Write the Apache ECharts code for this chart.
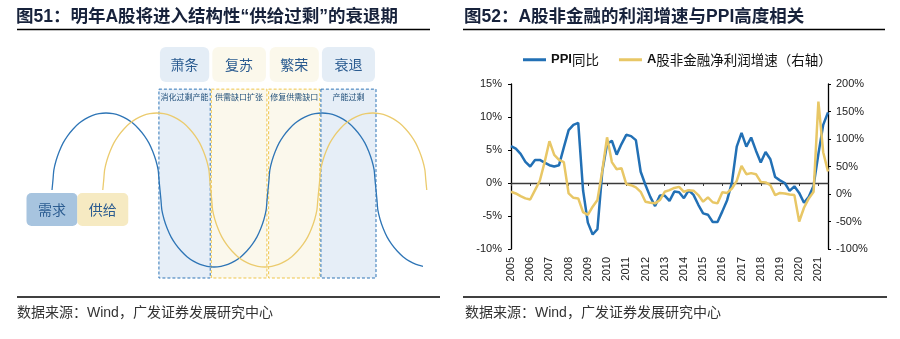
<!DOCTYPE html>
<html>
<head>
<meta charset="utf-8">
<script src="https://cdn.jsdelivr.net/npm/echarts@6/dist/echarts.min.js"></script>
<style>
  html, body { margin: 0; padding: 0; background: #fff; }
  #chart { width: 900px; height: 339px; }
</style>
</head>
<body>
<div id="chart"></div>
<script>
// ===== 图52: quarterly series, 2005Q1 – 2021Q3 =====
const quarters = [
  '2005Q1','2005Q2','2005Q3','2005Q4','2006Q1','2006Q2','2006Q3','2006Q4',
  '2007Q1','2007Q2','2007Q3','2007Q4','2008Q1','2008Q2','2008Q3','2008Q4',
  '2009Q1','2009Q2','2009Q3','2009Q4','2010Q1','2010Q2','2010Q3','2010Q4',
  '2011Q1','2011Q2','2011Q3','2011Q4','2012Q1','2012Q2','2012Q3','2012Q4',
  '2013Q1','2013Q2','2013Q3','2013Q4','2014Q1','2014Q2','2014Q3','2014Q4',
  '2015Q1','2015Q2','2015Q3','2015Q4','2016Q1','2016Q2','2016Q3','2016Q4',
  '2017Q1','2017Q2','2017Q3','2017Q4','2018Q1','2018Q2','2018Q3','2018Q4',
  '2019Q1','2019Q2','2019Q3','2019Q4','2020Q1','2020Q2','2020Q3','2020Q4',
  '2021Q1','2021Q2','2021Q3'
];
// PPI 同比 (%), left axis
const ppiYoY = [
  5.6, 5.2, 4.4, 3.2,   2.5, 3.5, 3.5, 3.1,   2.7, 2.5, 2.7, 5.4,   8.0, 8.8, 9.1, -1.1,
  -6.0, -7.8, -7.0, 1.7, 5.9, 6.4, 4.3, 5.9,  7.3, 7.1, 6.5, 1.7,   -0.3, -2.1, -3.5, -1.9,
  -1.9, -2.7, -1.3, -1.4, -2.3, -1.1, -1.8, -3.3, -4.6, -4.8, -5.9, -5.9, -4.3, -2.6, 0.1, 5.5,
  7.6, 5.5, 6.9, 4.9,   3.1, 4.7, 3.6, 0.9,   0.4, 0.0, -1.2, -0.5,  -1.5, -3.0, -2.1, -0.4,
  4.4, 8.8, 10.7
];
// A股非金融净利润增速 (%), right axis
const profitGrowth = [
  4, 1, -4, -8,      -10, 7, 24, 58,     96, 71, 62, 58,     1, -7, -8, -33,
  -38, -23, -11, 42, 103, 58, 45, 47,    18, 16, 12, 4,      -14, -16, -17, -11,
  4, 7, 11, 13,      4, 7, 6, -2,        -14, -6, -15, -17,  3, 2, 10, 24,
  51, 36, 38, 36,    22, 21, 16, -2,     2, 1, -1, -2,       -50, -25, -8, 4,
  168, 76, 41
];
const ppiName = 'PPI同比';
const profitName = 'A股非金融净利润增速（右轴）';

// ===== 图51: schematic cycle (x in half-cycle units, y in amplitude units) =====
const phases = ['萧条', '复苏', '繁荣', '衰退'];
const phaseNotes = ['消化过剩产能', '供需缺口扩张', '修复供需缺口', '产能过剩'];
const phaseBounds = [[0.99, 1.465], [1.475, 1.99], [2.006, 2.48], [2.49, 3.0]];
// one half-wave of the cycle curve: [offset, height]
const arcProfile = [
  [0, 0], [0.009, 0.131], [0.017, 0.259], [0.038, 0.383], [0.067, 0.5], [0.102, 0.609],
  [0.146, 0.707], [0.196, 0.793], [0.25, 0.866], [0.309, 0.924], [0.371, 0.966], [0.435, 0.991],
  [0.5, 1], [0.565, 0.991], [0.629, 0.966], [0.691, 0.924], [0.75, 0.866], [0.804, 0.793],
  [0.854, 0.707], [0.898, 0.609], [0.933, 0.5], [0.962, 0.383], [0.983, 0.259], [0.991, 0.131], [1, 0]
];
// half-waves as [start, direction]
const demandArcs = [[0, 1], [1, -1], [2, 1], [3, -1]];
const demandEnd = 3.435;
const supplyArcs = [[0.47, 1], [1.47, -1], [2.47, 1]];
const supplyEnd = 3.47;
const curveNames = ['需求', '供给'];

function buildWave(arcs, end) {
  const pts = [];
  arcs.forEach(([t0, dir], k) => {
    arcProfile.forEach(([dx, dy], j) => {
      if (k > 0 && j === 0) return;
      if (t0 + dx <= end + 1e-9) pts.push([t0 + dx, dir * dy]);
    });
  });
  return pts;
}

const FONT = '"Liberation Sans", "Noto Sans CJK SC", sans-serif';
const CJK = '"Noto Sans CJK SC", sans-serif';
const BLUE = '#2270b5';
const GOLD = '#e8c766';
const DIAG_BLUE = '#2e75b6';
const DIAG_GOLD = '#ebcb6e';
const TEXT_BLUE = '#2a5b90';
const phaseFill = ['#e4edf6', '#fbf8eb', '#fbf8eb', '#e4edf6'];
const areaFill = ['#e6eef7', '#fbf8ec', '#fbf8ec', '#e6eef7'];
const areaBorder = [DIAG_BLUE, '#eec54a', '#eec54a', DIAG_BLUE];
const boxFill = ['#a7c4df', '#f6eac2'];

const chart = echarts.init(document.getElementById('chart'), null, { renderer: 'canvas' });

const boldLatin = name => name.replace(/^([A-Za-z]+)/, '{b|$1}');

chart.setOption({
  animation: false,
  backgroundColor: '#fff',
  title: [
    { text: '图51：明年A股将进入结构性“供给过剩”的衰退期', left: 16, top: 7, padding: 0,
      textStyle: { fontSize: 17.5, fontWeight: 'bold', color: '#17223b', fontFamily: FONT, lineHeight: 20 } },
    { text: '图52：A股非金融的利润增速与PPI高度相关', left: 464, top: 7, padding: 0,
      textStyle: { fontSize: 17.5, fontWeight: 'bold', color: '#17223b', fontFamily: FONT, lineHeight: 20 } },
    { text: '数据来源：Wind，广发证券发展研究中心', left: 17, top: 305, padding: 0,
      textStyle: { fontSize: 14, fontWeight: 'normal', color: '#333', fontFamily: FONT, lineHeight: 16 } },
    { text: '数据来源：Wind，广发证券发展研究中心', left: 465, top: 305, padding: 0,
      textStyle: { fontSize: 14, fontWeight: 'normal', color: '#333', fontFamily: FONT, lineHeight: 16 } }
  ],
  graphic: [
    { type: 'line', shape: { x1: 17, y1: 29.5, x2: 430, y2: 29.5 }, style: { stroke: '#000', lineWidth: 1.5 } },
    { type: 'line', shape: { x1: 463, y1: 29.5, x2: 885, y2: 29.5 }, style: { stroke: '#000', lineWidth: 1.5 } },
    { type: 'line', shape: { x1: 17, y1: 297, x2: 440, y2: 297 }, style: { stroke: '#000', lineWidth: 1.5 } },
    { type: 'line', shape: { x1: 463, y1: 297, x2: 887, y2: 297 }, style: { stroke: '#000', lineWidth: 1.5 } }
  ],
  legend: {
    data: [ppiName, profitName],
    left: 518, top: 48,
    icon: 'rect', itemWidth: 23, itemHeight: 3, itemGap: 20,
    formatter: boldLatin,
    textStyle: { fontSize: 13.5, color: '#111', fontFamily: CJK,
      rich: { b: { fontSize: 13, fontWeight: 'bold', color: '#111', fontFamily: FONT } } }
  },
  grid: [
    { left: 25, width: 405, top: 36, height: 269.5 },
    { left: 511, right: 72, top: 84, bottom: 90 }
  ],
  xAxis: [
    { gridIndex: 0, type: 'value', min: -0.25, max: 3.5, show: false },
    { gridIndex: 1, type: 'category', data: quarters, boundaryGap: false, position: 'bottom',
      axisLine: { onZero: true, lineStyle: { color: '#3a3a3a', width: 1.3 } },
      axisTick: { show: true, length: 3, inside: false, interval: i => i % 4 === 0, lineStyle: { color: '#3a3a3a' } },
      axisLabel: { show: false }, splitLine: { show: false } },
    { gridIndex: 1, type: 'category', data: quarters, boundaryGap: false, position: 'bottom',
      axisLine: { show: false, onZero: false }, axisTick: { show: false },
      axisLabel: { show: true, rotate: 90, margin: 8, fontSize: 11, color: '#222', fontFamily: FONT,
        interval: i => i % 4 === 0, formatter: v => v.slice(0, 4) },
      splitLine: { show: false } }
  ],
  yAxis: [
    { gridIndex: 0, type: 'value', min: -1.5, max: 2, show: false },
    { gridIndex: 1, type: 'value', position: 'left', min: -10, max: 15, interval: 5,
      axisLine: { show: true, lineStyle: { color: '#000', width: 1.3 } },
      axisTick: { show: true, length: 3, inside: false, lineStyle: { color: '#000' } },
      axisLabel: { formatter: '{value}%', margin: 9, fontSize: 11, color: '#222', fontFamily: FONT },
      splitLine: { show: false } },
    { gridIndex: 1, type: 'value', position: 'right', min: -100, max: 200, interval: 50,
      axisLine: { show: true, lineStyle: { color: '#000', width: 1.3 } },
      axisTick: { show: true, length: 3, inside: false, lineStyle: { color: '#000' } },
      axisLabel: { formatter: '{value}%', margin: 8, fontSize: 11, color: '#222', fontFamily: FONT },
      splitLine: { show: false } }
  ],
  series: [
    // cycle phases as shaded bands, plus the demand curve
    {
      name: curveNames[0], type: 'line', xAxisIndex: 0, yAxisIndex: 0,
      data: buildWave(demandArcs, demandEnd), showSymbol: false, smooth: 0.2,
      lineStyle: { color: DIAG_BLUE, width: 1.3 }, itemStyle: { color: DIAG_BLUE }, z: 3,
      markArea: {
        silent: true,
        label: { show: true, position: 'insideTop', distance: 4, fontSize: 8, color: '#1f4e79', fontFamily: CJK },
        data: phaseBounds.map((b, i) => [
          { name: phaseNotes[i], xAxis: b[0], yAxis: 1.31,
            itemStyle: { color: areaFill[i], borderColor: areaBorder[i], borderWidth: 1, borderType: [3, 2] } },
          { xAxis: b[1], yAxis: -1.143 }
        ])
      }
    },
    {
      name: curveNames[1], type: 'line', xAxisIndex: 0, yAxisIndex: 0,
      data: buildWave(supplyArcs, supplyEnd), showSymbol: false, smooth: 0.2,
      lineStyle: { color: DIAG_GOLD, width: 1.3 }, itemStyle: { color: DIAG_GOLD }, z: 3
    },
    // phase name tags above the bands
    {
      type: 'custom', xAxisIndex: 0, yAxisIndex: 0, silent: true,
      data: phaseBounds.map((b, i) => [b[0], b[1], i]),
      renderItem: (params, api) => {
        const i = api.value(2);
        const x0 = api.coord([api.value(0), 0])[0] + 1;
        const x1 = api.coord([api.value(1), 0])[0] - 1;
        const yTop = api.coord([0, 1.857])[1];
        const yBot = api.coord([0, 1.403])[1];
        return { type: 'group', children: [
          { type: 'rect', shape: { x: x0, y: yTop, width: x1 - x0, height: yBot - yTop, r: 6 },
            style: { fill: phaseFill[i] } },
          { type: 'text', style: { text: phases[i], x: (x0 + x1) / 2, y: (yTop + yBot) / 2,
            align: 'center', verticalAlign: 'middle', fontSize: 14, fontFamily: CJK, fill: TEXT_BLUE } }
        ] };
      }
    },
    // 需求 / 供给 tags where the two curves start
    {
      type: 'custom', xAxisIndex: 0, yAxisIndex: 0, silent: true, z: 4,
      data: [[demandArcs[0][0], 0, 0], [supplyArcs[0][0], 0, 1]],
      renderItem: (params, api) => {
        const i = api.value(2);
        const p = api.coord([api.value(0), api.value(1)]);
        const w = 51, h = 33;
        return { type: 'group', children: [
          { type: 'rect', shape: { x: p[0] - w / 2, y: p[1] + 3, width: w, height: h, r: 5 },
            style: { fill: boxFill[i] } },
          { type: 'text', style: { text: curveNames[i], x: p[0], y: p[1] + 3 + h / 2,
            align: 'center', verticalAlign: 'middle', fontSize: 14, fontFamily: CJK, fill: TEXT_BLUE } }
        ] };
      }
    },
    // 图52 lines
    {
      name: ppiName, type: 'line', xAxisIndex: 1, yAxisIndex: 1, data: ppiYoY,
      showSymbol: false, lineStyle: { color: BLUE, width: 2.5 }, itemStyle: { color: BLUE }
    },
    {
      name: profitName, type: 'line', xAxisIndex: 1, yAxisIndex: 2, data: profitGrowth,
      showSymbol: false, lineStyle: { color: GOLD, width: 2.5 }, itemStyle: { color: GOLD }
    }
  ]
});
</script>
</body>
</html>
